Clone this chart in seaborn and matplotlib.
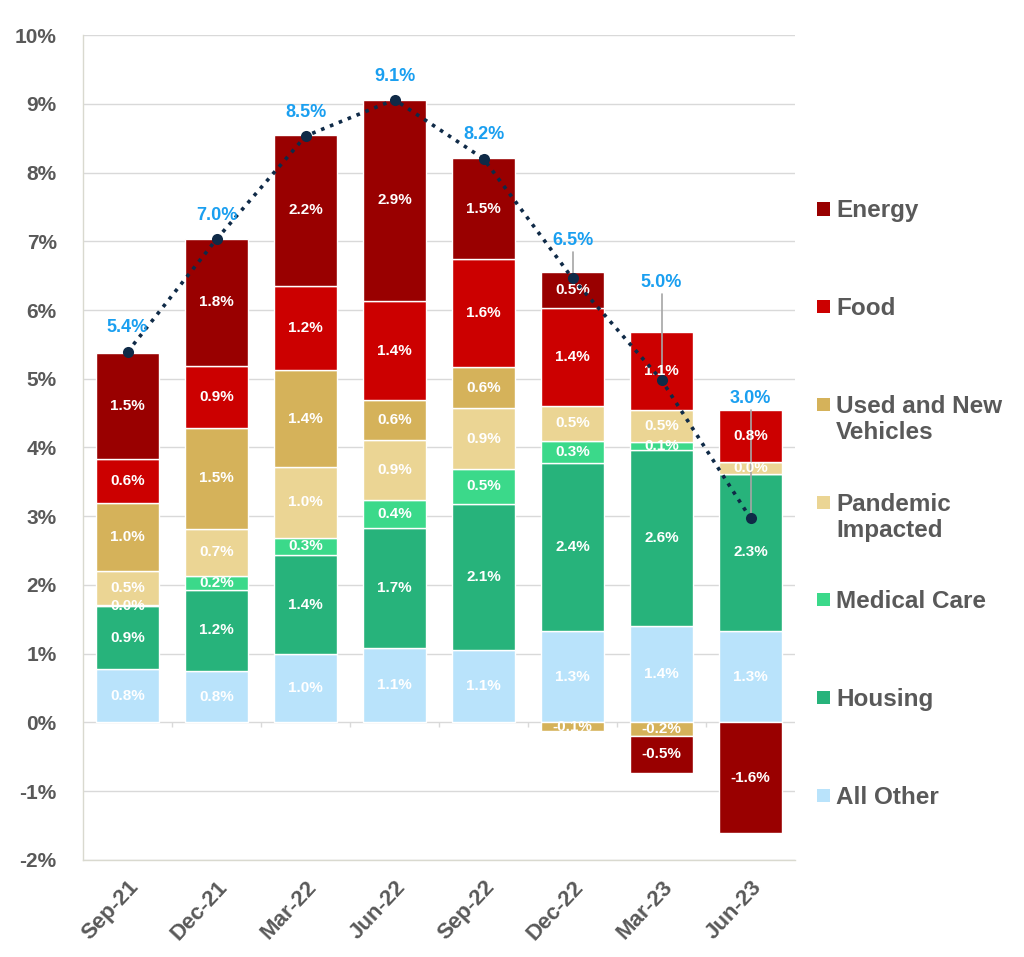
import matplotlib
matplotlib.use('Agg')
import matplotlib.pyplot as plt
from matplotlib.patches import Rectangle
import seaborn as sns
import numpy as np

quarters = ['Sep-21', 'Dec-21', 'Mar-22', 'Jun-22', 'Sep-22', 'Dec-22', 'Mar-23', 'Jun-23']

# contributions to headline CPI, percentage points (stack order bottom -> top)
all_other = [0.78, 0.75, 1.00, 1.09, 1.05, 1.33, 1.40, 1.33]
housing = [0.91, 1.18, 1.43, 1.74, 2.13, 2.44, 2.57, 2.29]
medical = [0.02, 0.20, 0.26, 0.41, 0.51, 0.33, 0.11, 0.00]
pandemic = [0.49, 0.69, 1.02, 0.87, 0.88, 0.51, 0.46, 0.17]
vehicles = [0.99, 1.47, 1.42, 0.58, 0.60, -0.12, -0.20, 0.00]
food = [0.64, 0.90, 1.22, 1.44, 1.57, 1.42, 1.14, 0.75]
energy = [1.54, 1.84, 2.20, 2.93, 1.47, 0.52, -0.53, -1.61]

headline = [5.39, 7.03, 8.53, 9.06, 8.20, 6.46, 4.98, 2.97]

series = [
    ('All Other', all_other, '#b9e3fb'),
    ('Housing', housing, '#27b37b'),
    ('Medical Care', medical, '#3bd98a'),
    ('Pandemic\nImpacted', pandemic, '#ebd594'),
    ('Used and New\nVehicles', vehicles, '#d5b25a'),
    ('Food', food, '#cc0000'),
    ('Energy', energy, '#990000'),
]
label_fix = {('Pandemic\nImpacted', 'Jun-23'): '0.0%'}

# how far above each dot the headline label sits (in % points)
label_lift = [0.35, 0.35, 0.35, 0.33, 0.35, 0.55, 1.42, 1.74]
leader = [False, False, False, False, False, True, True, True]

sns.set_theme(style='white')
plt.rcParams['font.family'] = ['Liberation Sans', 'DejaVu Sans']
plt.rcParams['font.weight'] = 'bold'
grey = '#595959'

W, H = 1024, 957
fig = plt.figure(figsize=(W / 100, H / 100), dpi=100)
ax = fig.add_axes([0.0811, 0.1014, 0.6953, 0.862])

x = np.arange(len(quarters))
pos_base = np.zeros(len(quarters))
neg_base = np.zeros(len(quarters))
for name, vals, col in series:
    vals = np.array(vals)
    bottom = np.where(vals >= 0, pos_base, neg_base)
    ax.bar(x, vals, width=0.7, bottom=bottom, color=col, zorder=2)
    for i, v in enumerate(vals):
        if abs(v) < 0.005:
            continue
        txt = label_fix.get((name, quarters[i]), f'{v:.1f}%')
        ax.text(x[i], bottom[i] + v / 2, txt, ha='center', va='center',
                color='white', fontsize=11, fontweight='bold', zorder=4)
    pos_base = pos_base + np.where(vals >= 0, vals, 0)
    neg_base = neg_base + np.where(vals < 0, vals, 0)

sns.lineplot(x=x, y=headline, ax=ax, color='#0f2a47', linestyle=':', linewidth=2.6,
             marker='o', markersize=8, markeredgewidth=0, zorder=5)

for i, v in enumerate(headline):
    ty = v + label_lift[i]
    ax.text(x[i], ty, f'{v:.1f}%', ha='center', va='center', color='#1a9ff0',
            fontsize=13, fontweight='bold', zorder=6)
    if leader[i]:
        ax.plot([x[i], x[i]], [ty - 0.17, v], color='#a6a6a6', linewidth=1.2, zorder=3)

# small ticks on the zero line between categories
ax.vlines(x[:-1] + 0.5, -0.07, 0, color='#d9d9d9', linewidth=1, zorder=1)

ax.set_xlim(-0.5, len(quarters) - 0.5)
ax.set_ylim(-2, 10)
ax.set_yticks(range(-2, 11))
ax.set_yticklabels([f'{t}%' for t in range(-2, 11)], fontsize=15, color=grey, fontweight='bold')
ax.set_xticks(x)
ax.set_xticklabels(quarters, rotation=47, ha='right', rotation_mode='anchor',
                   fontsize=16, color=grey, fontweight='bold')
ax.tick_params(axis='y', length=0, pad=19)
ax.tick_params(axis='x', length=0, pad=12)
ax.grid(axis='y', color='#d9d9d9', linewidth=1, zorder=0)
ax.set_axisbelow(True)
for s in ['top', 'right']:
    ax.spines[s].set_visible(False)
for s in ['left', 'bottom']:
    ax.spines[s].set_color('#d9d9cf')
    ax.spines[s].set_linewidth(1)

# legend in Excel style: first line of each entry on an even pitch, square beside it
for k, (name, vals, col) in enumerate(series[::-1]):
    yc = 209 + k * 97.7
    fig.patches.append(Rectangle(((817) / W, 1 - (yc + 6.5) / H), 13 / W, 13 / H,
                                 transform=fig.transFigure, facecolor=col,
                                 edgecolor='none', figure=fig))
    fig.text(836 / W, 1 - (yc - 9.5) / H, name, ha='left', va='top', color=grey,
             fontsize=17.5, fontweight='bold', linespacing=1.17)

fig.savefig('out.png', dpi=100)
